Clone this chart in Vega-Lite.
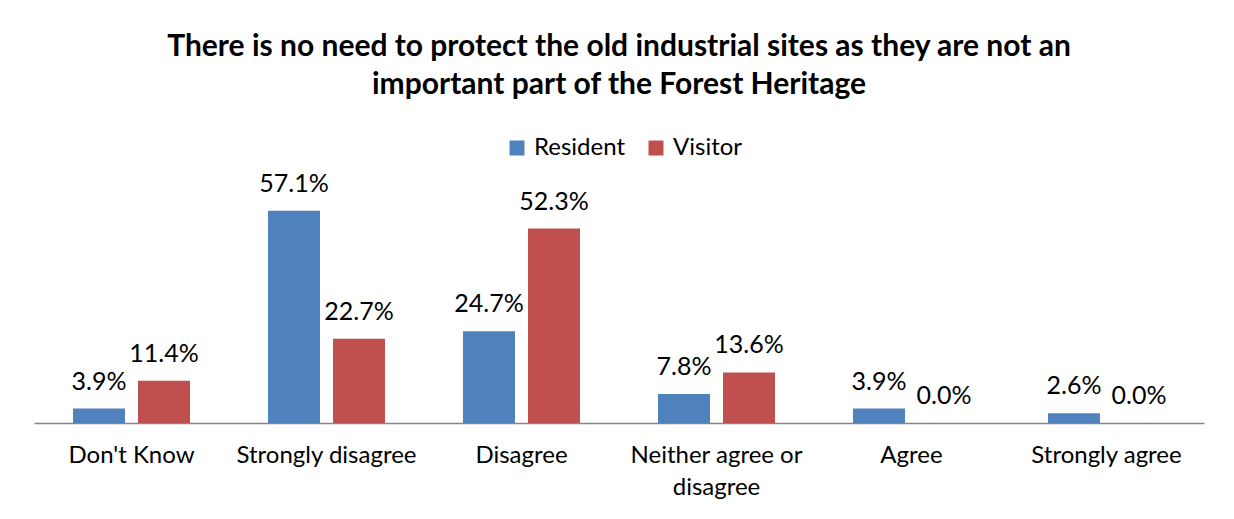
{
  "$schema": "https://vega.github.io/schema/vega-lite/v6.json",
  "width": 1170,
  "height": 223,
  "autosize": {"type": "none"},
  "padding": {"left": 34, "top": 200, "right": 30, "bottom": 96},
  "background": "white",
  "title": {
    "text": ["There is no need to protect the old industrial sites as they are not an", "important part of the Forest Heritage"],
    "font": "Lato",
    "fontSize": 30,
    "fontWeight": "bold",
    "lineHeight": 38,
    "color": "#000000",
    "anchor": "middle",
    "frame": "group",
    "offset": 36
  },
  "data": {
    "values": [
      {"response": "Don't Know", "group": "Resident", "pct": 0.039},
      {"response": "Don't Know", "group": "Visitor", "pct": 0.114},
      {"response": "Strongly disagree", "group": "Resident", "pct": 0.571},
      {"response": "Strongly disagree", "group": "Visitor", "pct": 0.227},
      {"response": "Disagree", "group": "Resident", "pct": 0.247},
      {"response": "Disagree", "group": "Visitor", "pct": 0.523},
      {"response": "Neither agree or disagree", "group": "Resident", "pct": 0.078},
      {"response": "Neither agree or disagree", "group": "Visitor", "pct": 0.136},
      {"response": "Agree", "group": "Resident", "pct": 0.039},
      {"response": "Agree", "group": "Visitor", "pct": 0.0},
      {"response": "Strongly agree", "group": "Resident", "pct": 0.026},
      {"response": "Strongly agree", "group": "Visitor", "pct": 0.0}
    ]
  },
  "encoding": {
    "x": {
      "field": "response",
      "type": "nominal",
      "sort": ["Don't Know", "Strongly disagree", "Disagree", "Neither agree or disagree", "Agree", "Strongly agree"],
      "scale": {"paddingInner": 0.4, "paddingOuter": 0.2},
      "axis": {
        "title": null,
        "labelAngle": 0,
        "ticks": false,
        "domain": true,
        "domainColor": "#868686",
        "domainWidth": 1.5,
        "labelFont": "Lato",
        "labelFontSize": 24,
        "labelColor": "#000000",
        "labelPadding": 20,
        "labelLineHeight": 32,
        "labelLimit": 0,
        "labelExpr": "datum.label == 'Neither agree or disagree' ? ['Neither agree or', 'disagree'] : datum.label"
      }
    },
    "xOffset": {
      "field": "group",
      "type": "nominal",
      "sort": ["Resident", "Visitor"],
      "scale": {"paddingInner": 0.2, "paddingOuter": 0}
    },
    "y": {
      "field": "pct",
      "type": "quantitative",
      "scale": {"domain": [0, 0.6]},
      "axis": null
    }
  },
  "layer": [
    {
      "mark": {"type": "bar"},
      "encoding": {
        "color": {
          "field": "group",
          "type": "nominal",
          "scale": {"domain": ["Resident", "Visitor"], "range": ["#4F81BD", "#C0504D"]},
          "legend": {
            "title": null,
            "orient": "none",
            "legendX": 471,
            "legendY": -64,
            "direction": "horizontal",
            "symbolType": "square",
            "symbolSize": 225,
            "symbolStrokeWidth": 0,
            "labelFont": "Lato",
            "labelFontSize": 24,
            "labelColor": "#000000",
            "columnPadding": 18,
            "labelOffset": 5
          }
        }
      }
    },
    {
      "mark": {"type": "text", "baseline": "bottom", "dy": -14, "font": "Lato", "fontSize": 25, "color": "#000000"},
      "encoding": {
        "text": {"field": "pct", "type": "quantitative", "format": ".1%"}
      }
    }
  ],
  "config": {"view": {"stroke": null}}
}
